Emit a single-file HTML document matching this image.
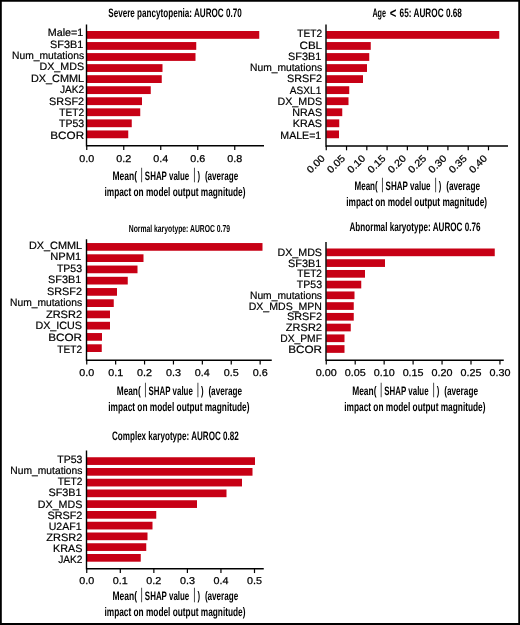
<!DOCTYPE html>
<html lang="en"><head><meta charset="utf-8"><title>SHAP feature importance</title>
<style>html,body{margin:0;padding:0;background:#fff}body{width:520px;height:625px;overflow:hidden}svg{display:block;text-rendering:geometricPrecision}.lb{font-family:"Liberation Sans",sans-serif;font-size:10.6px;fill:#000;stroke:#000;stroke-width:0.2px}.tk{font-family:"Liberation Sans",sans-serif;font-size:9.9px;fill:#000;stroke:#000;stroke-width:0.25px}.cd{font-family:"Liberation Sans",sans-serif;font-weight:bold;fill:#000}.vb{font-family:"Liberation Sans",sans-serif;fill:#333}</style></head><body>
<svg width="520" height="625" viewBox="0 0 520 625">
<rect x="0" y="0" width="520" height="625" fill="#fff"/>
<path d="M0 0H520V625H0Z M1.8 1.75V623H518.25V1.75Z" fill="#000" fill-rule="evenodd"/>
<g>
<rect x="86.75" y="31" width="172.5" height="7.8" fill="#c70015"/>
<text class="lb" text-anchor="end" transform="translate(83.3 36.3) scale(1.015 1)">Male=1</text>
<rect x="86.75" y="42.05" width="109.5" height="7.8" fill="#c70015"/>
<text class="lb" text-anchor="end" transform="translate(83.3 47.6833) scale(1.025 1)">SF3B1</text>
<rect x="86.75" y="53.1" width="108.75" height="7.8" fill="#c70015"/>
<text class="lb" text-anchor="end" transform="translate(84.1 59.0667) scale(0.971 1)">Num_mutations</text>
<rect x="86.75" y="64.15" width="75.75" height="7.8" fill="#c70015"/>
<text class="lb" text-anchor="end" transform="translate(84.1 70.45) scale(1.010 1)">DX_MDS</text>
<rect x="86.75" y="75.2" width="75" height="7.8" fill="#c70015"/>
<text class="lb" text-anchor="end" transform="translate(84.1 81.8333) scale(1.026 1)">DX_CMML</text>
<rect x="86.75" y="86.25" width="64" height="7.8" fill="#c70015"/>
<text class="lb" text-anchor="end" transform="translate(84.1 93.2167) scale(0.956 1)">JAK2</text>
<rect x="86.75" y="97.3" width="55.25" height="7.8" fill="#c70015"/>
<text class="lb" text-anchor="end" transform="translate(84.1 104.6) scale(1.025 1)">SRSF2</text>
<rect x="86.75" y="108.35" width="53.5" height="7.8" fill="#c70015"/>
<text class="lb" text-anchor="end" transform="translate(84.1 115.983) scale(0.955 1)">TET2</text>
<rect x="86.75" y="119.4" width="45" height="7.8" fill="#c70015"/>
<text class="lb" text-anchor="end" transform="translate(84.1 127.367) scale(0.992 1)">TP53</text>
<rect x="86.75" y="130.45" width="41.5" height="7.8" fill="#c70015"/>
<text class="lb" text-anchor="end" transform="translate(84.1 138.75) scale(1.105 1)">BCOR</text>
<path d="M86.5 24.5V145.7H264" fill="none" stroke="#000" stroke-width="1.4"/>
<path d="M86.75 145.7v4.3" stroke="#000" stroke-width="1.2"/>
<text class="tk" text-anchor="middle" transform="translate(86.75 161.5) scale(1.09 1)">0.0</text>
<path d="M123.75 145.7v4.3" stroke="#000" stroke-width="1.2"/>
<text class="tk" text-anchor="middle" transform="translate(123.75 161.5) scale(1.09 1)">0.2</text>
<path d="M160.75 145.7v4.3" stroke="#000" stroke-width="1.2"/>
<text class="tk" text-anchor="middle" transform="translate(160.75 161.5) scale(1.09 1)">0.4</text>
<path d="M197.75 145.7v4.3" stroke="#000" stroke-width="1.2"/>
<text class="tk" text-anchor="middle" transform="translate(197.75 161.5) scale(1.09 1)">0.6</text>
<path d="M234.75 145.7v4.3" stroke="#000" stroke-width="1.2"/>
<text class="tk" text-anchor="middle" transform="translate(234.75 161.5) scale(1.09 1)">0.8</text>
<text class="cd" x="108.25" y="16.9" font-size="12.3" textLength="133.5" lengthAdjust="spacingAndGlyphs">Severe pancytopenia: AUROC 0.70</text>
<text class="cd" x="112.5" y="180.25" font-size="12.3" textLength="24.45" lengthAdjust="spacingAndGlyphs">Mean(</text>
<text class="vb" x="141.75" y="178.85" font-size="15.4" text-anchor="middle" transform="translate(141.75 0) scale(0.7 1) translate(-141.75 0)">|</text>
<text class="cd" x="144.85" y="180.25" font-size="12.3" textLength="44.45" lengthAdjust="spacingAndGlyphs">SHAP value</text>
<text class="vb" x="194.5" y="178.85" font-size="15.4" text-anchor="middle" transform="translate(194.5 0) scale(0.7 1) translate(-194.5 0)">|</text>
<text class="cd" x="197.5" y="180.25" font-size="12.3" textLength="2.6" lengthAdjust="spacingAndGlyphs">)</text>
<text class="cd" x="204.9" y="180.25" font-size="12.3" textLength="33.35" lengthAdjust="spacingAndGlyphs">(average</text>
<text class="cd" x="104.5" y="195.8" font-size="12.3" textLength="141" lengthAdjust="spacingAndGlyphs">impact on model output magnitude)</text>
</g>
<g>
<rect x="326.25" y="31" width="173" height="7.8" fill="#c70015"/>
<text class="lb" text-anchor="end" transform="translate(322.05 37.4) scale(0.955 1)">TET2</text>
<rect x="326.25" y="42.05" width="44.5" height="7.8" fill="#c70015"/>
<text class="lb" text-anchor="end" transform="translate(322.05 48.6611) scale(1.093 1)">CBL</text>
<rect x="326.25" y="53.1" width="43" height="7.8" fill="#c70015"/>
<text class="lb" text-anchor="end" transform="translate(321.25 59.9222) scale(1.025 1)">SF3B1</text>
<rect x="326.25" y="64.15" width="40.75" height="7.8" fill="#c70015"/>
<text class="lb" text-anchor="end" transform="translate(322.05 71.1833) scale(0.971 1)">Num_mutations</text>
<rect x="326.25" y="75.2" width="36.75" height="7.8" fill="#c70015"/>
<text class="lb" text-anchor="end" transform="translate(322.05 82.4444) scale(1.025 1)">SRSF2</text>
<rect x="326.25" y="86.25" width="23" height="7.8" fill="#c70015"/>
<text class="lb" text-anchor="end" transform="translate(321.25 93.7056) scale(0.954 1)">ASXL1</text>
<rect x="326.25" y="97.3" width="22.25" height="7.8" fill="#c70015"/>
<text class="lb" text-anchor="end" transform="translate(322.05 104.967) scale(1.010 1)">DX_MDS</text>
<rect x="326.25" y="108.35" width="16" height="7.8" fill="#c70015"/>
<text class="lb" text-anchor="end" transform="translate(322.05 116.228) scale(1.009 1)">NRAS</text>
<rect x="326.25" y="119.4" width="13" height="7.8" fill="#c70015"/>
<text class="lb" text-anchor="end" transform="translate(322.05 127.489) scale(1.016 1)">KRAS</text>
<rect x="326.25" y="130.45" width="12.75" height="7.8" fill="#c70015"/>
<text class="lb" text-anchor="end" transform="translate(321.25 138.75) scale(1.000 1)">MALE=1</text>
<path d="M326 24.5V146H508" fill="none" stroke="#000" stroke-width="1.4"/>
<path d="M326.25 146v4.3" stroke="#000" stroke-width="1.2"/>
<text class="tk" text-anchor="end" transform="translate(325.5 159) rotate(-45) scale(1.09 1)">0.00</text>
<path d="M346.53 146v4.3" stroke="#000" stroke-width="1.2"/>
<text class="tk" text-anchor="end" transform="translate(345.78 159) rotate(-45) scale(1.09 1)">0.05</text>
<path d="M366.81 146v4.3" stroke="#000" stroke-width="1.2"/>
<text class="tk" text-anchor="end" transform="translate(366.06 159) rotate(-45) scale(1.09 1)">0.10</text>
<path d="M387.09 146v4.3" stroke="#000" stroke-width="1.2"/>
<text class="tk" text-anchor="end" transform="translate(386.34 159) rotate(-45) scale(1.09 1)">0.15</text>
<path d="M407.37 146v4.3" stroke="#000" stroke-width="1.2"/>
<text class="tk" text-anchor="end" transform="translate(406.62 159) rotate(-45) scale(1.09 1)">0.20</text>
<path d="M427.65 146v4.3" stroke="#000" stroke-width="1.2"/>
<text class="tk" text-anchor="end" transform="translate(426.9 159) rotate(-45) scale(1.09 1)">0.25</text>
<path d="M447.93 146v4.3" stroke="#000" stroke-width="1.2"/>
<text class="tk" text-anchor="end" transform="translate(447.18 159) rotate(-45) scale(1.09 1)">0.30</text>
<path d="M468.21 146v4.3" stroke="#000" stroke-width="1.2"/>
<text class="tk" text-anchor="end" transform="translate(467.46 159) rotate(-45) scale(1.09 1)">0.35</text>
<path d="M488.49 146v4.3" stroke="#000" stroke-width="1.2"/>
<text class="tk" text-anchor="end" transform="translate(487.74 159) rotate(-45) scale(1.09 1)">0.40</text>
<text class="cd" x="372.4" y="16.9" font-size="12.3" textLength="13.6" lengthAdjust="spacingAndGlyphs">Age</text>
<text class="cd" x="389.8" y="17.5" font-size="14.5" textLength="6.6" lengthAdjust="spacingAndGlyphs">&lt;</text>
<text class="cd" x="399.6" y="16.9" font-size="12.3" textLength="62.3" lengthAdjust="spacingAndGlyphs">65: AUROC 0.68</text>
<text class="cd" x="354.5" y="190.3" font-size="12.3" textLength="23.2" lengthAdjust="spacingAndGlyphs">Mean(</text>
<text class="vb" x="382.5" y="188.9" font-size="15.4" text-anchor="middle" transform="translate(382.5 0) scale(0.7 1) translate(-382.5 0)">|</text>
<text class="cd" x="385.6" y="190.3" font-size="12.3" textLength="44.95" lengthAdjust="spacingAndGlyphs">SHAP value</text>
<text class="vb" x="435.75" y="188.9" font-size="15.4" text-anchor="middle" transform="translate(435.75 0) scale(0.7 1) translate(-435.75 0)">|</text>
<text class="cd" x="438.75" y="190.3" font-size="12.3" textLength="2.6" lengthAdjust="spacingAndGlyphs">)</text>
<text class="cd" x="446.15" y="190.3" font-size="12.3" textLength="33.85" lengthAdjust="spacingAndGlyphs">(average</text>
<text class="cd" x="346.25" y="206.4" font-size="12.3" textLength="140.75" lengthAdjust="spacingAndGlyphs">impact on model output magnitude)</text>
</g>
<g>
<rect x="86.75" y="243.05" width="175.75" height="7.7" fill="#c70015"/>
<text class="lb" text-anchor="end" transform="translate(82.05 248.75) scale(1.026 1)">DX_CMML</text>
<rect x="86.75" y="254.3" width="56.75" height="7.7" fill="#c70015"/>
<text class="lb" text-anchor="end" transform="translate(81.25 260.278) scale(1.054 1)">NPM1</text>
<rect x="86.75" y="265.55" width="50.75" height="7.7" fill="#c70015"/>
<text class="lb" text-anchor="end" transform="translate(82.05 271.806) scale(0.992 1)">TP53</text>
<rect x="86.75" y="276.8" width="41" height="7.7" fill="#c70015"/>
<text class="lb" text-anchor="end" transform="translate(81.25 283.333) scale(1.025 1)">SF3B1</text>
<rect x="86.75" y="288.05" width="30.25" height="7.7" fill="#c70015"/>
<text class="lb" text-anchor="end" transform="translate(82.05 294.861) scale(1.025 1)">SRSF2</text>
<rect x="86.75" y="299.3" width="27" height="7.7" fill="#c70015"/>
<text class="lb" text-anchor="end" transform="translate(82.05 306.389) scale(0.971 1)">Num_mutations</text>
<rect x="86.75" y="310.55" width="23.25" height="7.7" fill="#c70015"/>
<text class="lb" text-anchor="end" transform="translate(82.05 317.917) scale(1.041 1)">ZRSR2</text>
<rect x="86.75" y="321.8" width="23.25" height="7.7" fill="#c70015"/>
<text class="lb" text-anchor="end" transform="translate(82.05 329.444) scale(1.016 1)">DX_ICUS</text>
<rect x="86.75" y="333.05" width="15.25" height="7.7" fill="#c70015"/>
<text class="lb" text-anchor="end" transform="translate(82.05 340.972) scale(1.105 1)">BCOR</text>
<rect x="86.75" y="344.3" width="15" height="7.7" fill="#c70015"/>
<text class="lb" text-anchor="end" transform="translate(82.05 352.5) scale(0.955 1)">TET2</text>
<path d="M86.5 239.25V360.2H271.75" fill="none" stroke="#000" stroke-width="1.4"/>
<path d="M86.75 360.2v4.3" stroke="#000" stroke-width="1.2"/>
<text class="tk" text-anchor="middle" transform="translate(86.75 376) scale(1.09 1)">0.0</text>
<path d="M115.65 360.2v4.3" stroke="#000" stroke-width="1.2"/>
<text class="tk" text-anchor="middle" transform="translate(115.65 376) scale(1.09 1)">0.1</text>
<path d="M144.55 360.2v4.3" stroke="#000" stroke-width="1.2"/>
<text class="tk" text-anchor="middle" transform="translate(144.55 376) scale(1.09 1)">0.2</text>
<path d="M173.45 360.2v4.3" stroke="#000" stroke-width="1.2"/>
<text class="tk" text-anchor="middle" transform="translate(173.45 376) scale(1.09 1)">0.3</text>
<path d="M202.35 360.2v4.3" stroke="#000" stroke-width="1.2"/>
<text class="tk" text-anchor="middle" transform="translate(202.35 376) scale(1.09 1)">0.4</text>
<path d="M231.25 360.2v4.3" stroke="#000" stroke-width="1.2"/>
<text class="tk" text-anchor="middle" transform="translate(231.25 376) scale(1.09 1)">0.5</text>
<path d="M260.15 360.2v4.3" stroke="#000" stroke-width="1.2"/>
<text class="tk" text-anchor="middle" transform="translate(260.15 376) scale(1.09 1)">0.6</text>
<text class="cd" x="128.75" y="231.75" font-size="10.2" textLength="101.25" lengthAdjust="spacingAndGlyphs">Normal karyotype: AUROC 0.79</text>
<text class="cd" x="116.75" y="394.9" font-size="12.3" textLength="23.95" lengthAdjust="spacingAndGlyphs">Mean(</text>
<text class="vb" x="145.5" y="393.5" font-size="15.4" text-anchor="middle" transform="translate(145.5 0) scale(0.7 1) translate(-145.5 0)">|</text>
<text class="cd" x="148.6" y="394.9" font-size="12.3" textLength="44.2" lengthAdjust="spacingAndGlyphs">SHAP value</text>
<text class="vb" x="198" y="393.5" font-size="15.4" text-anchor="middle" transform="translate(198 0) scale(0.7 1) translate(-198 0)">|</text>
<text class="cd" x="201" y="394.9" font-size="12.3" textLength="2.6" lengthAdjust="spacingAndGlyphs">)</text>
<text class="cd" x="208.4" y="394.9" font-size="12.3" textLength="33.6" lengthAdjust="spacingAndGlyphs">(average</text>
<text class="cd" x="108.25" y="410.5" font-size="12.3" textLength="141.25" lengthAdjust="spacingAndGlyphs">impact on model output magnitude)</text>
</g>
<g>
<rect x="326.25" y="248.5" width="168.5" height="7.7" fill="#c70015"/>
<text class="lb" text-anchor="end" transform="translate(322 256) scale(1.010 1)">DX_MDS</text>
<rect x="326.25" y="259.24" width="58.75" height="7.7" fill="#c70015"/>
<text class="lb" text-anchor="end" transform="translate(321.2 266.733) scale(1.025 1)">SF3B1</text>
<rect x="326.25" y="269.98" width="38.75" height="7.7" fill="#c70015"/>
<text class="lb" text-anchor="end" transform="translate(322 277.467) scale(0.955 1)">TET2</text>
<rect x="326.25" y="280.72" width="35" height="7.7" fill="#c70015"/>
<text class="lb" text-anchor="end" transform="translate(322 288.2) scale(0.992 1)">TP53</text>
<rect x="326.25" y="291.46" width="28.25" height="7.7" fill="#c70015"/>
<text class="lb" text-anchor="end" transform="translate(322 298.933) scale(0.971 1)">Num_mutations</text>
<rect x="326.25" y="302.2" width="27.5" height="7.7" fill="#c70015"/>
<text class="lb" text-anchor="end" transform="translate(322 309.667) scale(0.996 1)">DX_MDS_MPN</text>
<rect x="326.25" y="312.94" width="27.5" height="7.7" fill="#c70015"/>
<text class="lb" text-anchor="end" transform="translate(322 320.4) scale(1.025 1)">SRSF2</text>
<rect x="326.25" y="323.68" width="24.5" height="7.7" fill="#c70015"/>
<text class="lb" text-anchor="end" transform="translate(322 331.133) scale(1.041 1)">ZRSR2</text>
<rect x="326.25" y="334.42" width="18.25" height="7.7" fill="#c70015"/>
<text class="lb" text-anchor="end" transform="translate(322 341.867) scale(0.972 1)">DX_PMF</text>
<rect x="326.25" y="345.16" width="18.25" height="7.7" fill="#c70015"/>
<text class="lb" text-anchor="end" transform="translate(322 352.6) scale(1.105 1)">BCOR</text>
<path d="M326 242V360.25H503.75" fill="none" stroke="#000" stroke-width="1.4"/>
<path d="M326.25 360.25v4.3" stroke="#000" stroke-width="1.2"/>
<text class="tk" text-anchor="middle" transform="translate(326.25 376) scale(1.09 1)">0.00</text>
<path d="M355.2 360.25v4.3" stroke="#000" stroke-width="1.2"/>
<text class="tk" text-anchor="middle" transform="translate(355.2 376) scale(1.09 1)">0.05</text>
<path d="M384.15 360.25v4.3" stroke="#000" stroke-width="1.2"/>
<text class="tk" text-anchor="middle" transform="translate(384.15 376) scale(1.09 1)">0.10</text>
<path d="M413.1 360.25v4.3" stroke="#000" stroke-width="1.2"/>
<text class="tk" text-anchor="middle" transform="translate(413.1 376) scale(1.09 1)">0.15</text>
<path d="M442.05 360.25v4.3" stroke="#000" stroke-width="1.2"/>
<text class="tk" text-anchor="middle" transform="translate(442.05 376) scale(1.09 1)">0.20</text>
<path d="M471 360.25v4.3" stroke="#000" stroke-width="1.2"/>
<text class="tk" text-anchor="middle" transform="translate(471 376) scale(1.09 1)">0.25</text>
<path d="M499.95 360.25v4.3" stroke="#000" stroke-width="1.2"/>
<text class="tk" text-anchor="middle" transform="translate(499.95 376) scale(1.09 1)">0.30</text>
<text class="cd" x="349.5" y="231.35" font-size="12.3" textLength="131" lengthAdjust="spacingAndGlyphs">Abnormal karyotype: AUROC 0.76</text>
<text class="cd" x="352.2" y="394.9" font-size="12.3" textLength="24.25" lengthAdjust="spacingAndGlyphs">Mean(</text>
<text class="vb" x="381.25" y="393.5" font-size="15.4" text-anchor="middle" transform="translate(381.25 0) scale(0.7 1) translate(-381.25 0)">|</text>
<text class="cd" x="384.35" y="394.9" font-size="12.3" textLength="44.2" lengthAdjust="spacingAndGlyphs">SHAP value</text>
<text class="vb" x="433.75" y="393.5" font-size="15.4" text-anchor="middle" transform="translate(433.75 0) scale(0.7 1) translate(-433.75 0)">|</text>
<text class="cd" x="436.75" y="394.9" font-size="12.3" textLength="2.6" lengthAdjust="spacingAndGlyphs">)</text>
<text class="cd" x="444.15" y="394.9" font-size="12.3" textLength="33.85" lengthAdjust="spacingAndGlyphs">(average</text>
<text class="cd" x="344.25" y="410.5" font-size="12.3" textLength="141.25" lengthAdjust="spacingAndGlyphs">impact on model output magnitude)</text>
</g>
<g>
<rect x="86.75" y="457.25" width="168.25" height="7.7" fill="#c70015"/>
<text class="lb" text-anchor="end" transform="translate(82.4 463.25) scale(0.992 1)">TP53</text>
<rect x="86.75" y="468" width="165.75" height="7.7" fill="#c70015"/>
<text class="lb" text-anchor="end" transform="translate(82.4 474.322) scale(0.971 1)">Num_mutations</text>
<rect x="86.75" y="478.75" width="155.25" height="7.7" fill="#c70015"/>
<text class="lb" text-anchor="end" transform="translate(82.4 485.394) scale(0.955 1)">TET2</text>
<rect x="86.75" y="489.5" width="139.75" height="7.7" fill="#c70015"/>
<text class="lb" text-anchor="end" transform="translate(81.6 496.467) scale(1.025 1)">SF3B1</text>
<rect x="86.75" y="500.25" width="110.25" height="7.7" fill="#c70015"/>
<text class="lb" text-anchor="end" transform="translate(82.4 507.539) scale(1.010 1)">DX_MDS</text>
<rect x="86.75" y="511" width="69.5" height="7.7" fill="#c70015"/>
<text class="lb" text-anchor="end" transform="translate(82.4 518.611) scale(1.025 1)">SRSF2</text>
<rect x="86.75" y="521.75" width="65.75" height="7.7" fill="#c70015"/>
<text class="lb" text-anchor="end" transform="translate(81.6 529.683) scale(0.997 1)">U2AF1</text>
<rect x="86.75" y="532.5" width="60.75" height="7.7" fill="#c70015"/>
<text class="lb" text-anchor="end" transform="translate(82.4 540.756) scale(1.041 1)">ZRSR2</text>
<rect x="86.75" y="543.25" width="59.5" height="7.7" fill="#c70015"/>
<text class="lb" text-anchor="end" transform="translate(82.4 551.828) scale(1.016 1)">KRAS</text>
<rect x="86.75" y="554" width="54" height="7.7" fill="#c70015"/>
<text class="lb" text-anchor="end" transform="translate(82.4 562.9) scale(0.956 1)">JAK2</text>
<path d="M86.5 450.4V568.75H263.75" fill="none" stroke="#000" stroke-width="1.4"/>
<path d="M86.75 568.75v4.3" stroke="#000" stroke-width="1.2"/>
<text class="tk" text-anchor="middle" transform="translate(86.75 584.25) scale(1.09 1)">0.0</text>
<path d="M120.3 568.75v4.3" stroke="#000" stroke-width="1.2"/>
<text class="tk" text-anchor="middle" transform="translate(120.3 584.25) scale(1.09 1)">0.1</text>
<path d="M153.85 568.75v4.3" stroke="#000" stroke-width="1.2"/>
<text class="tk" text-anchor="middle" transform="translate(153.85 584.25) scale(1.09 1)">0.2</text>
<path d="M187.4 568.75v4.3" stroke="#000" stroke-width="1.2"/>
<text class="tk" text-anchor="middle" transform="translate(187.4 584.25) scale(1.09 1)">0.3</text>
<path d="M220.95 568.75v4.3" stroke="#000" stroke-width="1.2"/>
<text class="tk" text-anchor="middle" transform="translate(220.95 584.25) scale(1.09 1)">0.4</text>
<path d="M254.5 568.75v4.3" stroke="#000" stroke-width="1.2"/>
<text class="tk" text-anchor="middle" transform="translate(254.5 584.25) scale(1.09 1)">0.5</text>
<text class="cd" x="112" y="440" font-size="12.3" textLength="126.75" lengthAdjust="spacingAndGlyphs">Complex karyotype: AUROC 0.82</text>
<text class="cd" x="112.5" y="600.3" font-size="12.3" textLength="24.45" lengthAdjust="spacingAndGlyphs">Mean(</text>
<text class="vb" x="141.75" y="598.9" font-size="15.4" text-anchor="middle" transform="translate(141.75 0) scale(0.7 1) translate(-141.75 0)">|</text>
<text class="cd" x="144.85" y="600.3" font-size="12.3" textLength="44.45" lengthAdjust="spacingAndGlyphs">SHAP value</text>
<text class="vb" x="194.5" y="598.9" font-size="15.4" text-anchor="middle" transform="translate(194.5 0) scale(0.7 1) translate(-194.5 0)">|</text>
<text class="cd" x="197.5" y="600.3" font-size="12.3" textLength="2.6" lengthAdjust="spacingAndGlyphs">)</text>
<text class="cd" x="204.9" y="600.3" font-size="12.3" textLength="33.35" lengthAdjust="spacingAndGlyphs">(average</text>
<text class="cd" x="104.5" y="615.85" font-size="12.3" textLength="141" lengthAdjust="spacingAndGlyphs">impact on model output magnitude)</text>
</g>
</svg></body></html>
